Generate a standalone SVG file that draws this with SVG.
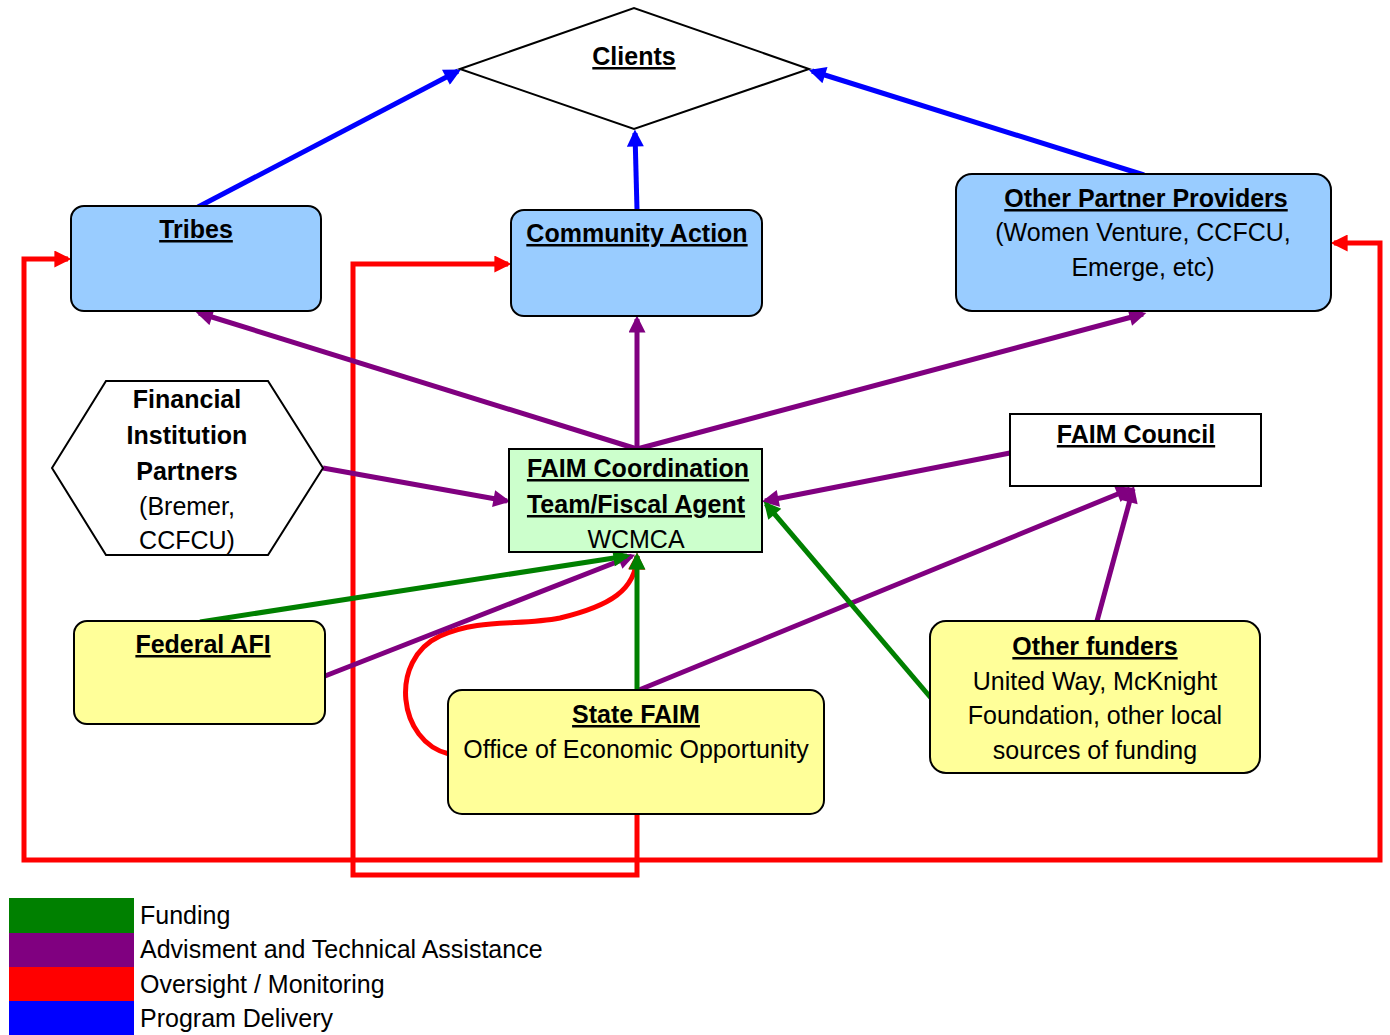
<svg xmlns="http://www.w3.org/2000/svg" width="1390" height="1035" viewBox="0 0 1390 1035">
<style>
text{font-family:"Liberation Sans",Arial,sans-serif;fill:#000;text-anchor:middle}
.t{font-weight:bold;font-size:25px;text-decoration:underline}
.b{font-weight:bold;font-size:25px}
.n{font-size:25px}
.box{stroke:#000;stroke-width:2}
.blue{fill:#99CCFF}.yel{fill:#FFFF99}.grn{fill:#CCFFCC}.wht{fill:#fff}
.c{fill:none;stroke-width:5}
.cb{stroke:#0000FF}.cp{stroke:#800080}.cg{stroke:#008000}.cr{stroke:#FF0000}
.lg{font-size:25px;text-anchor:start}
</style>
<defs>
<marker id="ab" viewBox="0 0 10 10" refX="8" refY="5" markerWidth="4" markerHeight="3.4" orient="auto"><path d="M0,0L10,5L0,10z" fill="#0000FF"/></marker>
<marker id="ap" viewBox="0 0 10 10" refX="8" refY="5" markerWidth="4" markerHeight="3.4" orient="auto"><path d="M0,0L10,5L0,10z" fill="#800080"/></marker>
<marker id="ag" viewBox="0 0 10 10" refX="8" refY="5" markerWidth="4" markerHeight="3.4" orient="auto"><path d="M0,0L10,5L0,10z" fill="#008000"/></marker>
<marker id="ar" viewBox="0 0 10 10" refX="8" refY="5" markerWidth="4" markerHeight="3.4" orient="auto"><path d="M0,0L10,5L0,10z" fill="#FF0000"/></marker>
</defs>
<rect width="1390" height="1035" fill="#fff"/>

<g id="connectors">
<!-- red oversight loops -->
<path class="c cr" d="M637,814 V875 H353 V264 H508" marker-end="url(#ar)"/>
<path class="c cr" d="M637,860 H24 V259 H68" marker-end="url(#ar)"/>
<path class="c cr" d="M637,860 H1380 V243 H1334" marker-end="url(#ar)"/>
<path class="c cr" d="M449,754 C398,742 388,660 440,636 C480,618 520,626 560,618 C610,606 636,590 637,556" marker-end="url(#ar)"/>
<!-- blue program delivery -->
<path class="c cb" d="M198,207 L458,71" marker-end="url(#ab)"/>
<path class="c cb" d="M637,210 L635,133" marker-end="url(#ab)"/>
<path class="c cb" d="M1144,175 L812,71" marker-end="url(#ab)"/>
<!-- purple advisement -->
<path class="c cp" d="M637,449 L199,313" marker-end="url(#ap)"/>
<path class="c cp" d="M637,449 L637,319" marker-end="url(#ap)"/>
<path class="c cp" d="M637,449 L1143,314" marker-end="url(#ap)"/>
<path class="c cp" d="M323,468 L507,501" marker-end="url(#ap)"/>
<path class="c cp" d="M1010,453 L765,501" marker-end="url(#ap)"/>
<path class="c cp" d="M325,676 L632,556" marker-end="url(#ap)"/>
<path class="c cp" d="M639,690 L1130,489" marker-end="url(#ap)"/>
<path class="c cp" d="M1097,621 L1133,489" marker-end="url(#ap)"/>
<!-- green funding -->
<path class="c cg" d="M200,622 L627,556" marker-end="url(#ag)"/>
<path class="c cg" d="M637,690 L637,556" marker-end="url(#ag)"/>
<path class="c cg" d="M931,698 L766,504" marker-end="url(#ag)"/>
</g>

<g id="clients">
<polygon points="460,69 634,8 809,69 634,129" class="box wht"/>
<text x="634" y="65" class="t">Clients</text>
</g>
<g id="tribes">
<rect x="71" y="206" width="250" height="105" rx="13" class="box blue"/>
<text x="196" y="238" class="t">Tribes</text>
</g>
<g id="community-action">
<rect x="511" y="210" width="251" height="106" rx="13" class="box blue"/>
<text x="637" y="242" class="t">Community Action</text>
</g>
<g id="other-partner-providers">
<rect x="956" y="174" width="375" height="137" rx="16" class="box blue"/>
<text x="1146" y="207" class="t">Other Partner Providers </text>
<text x="1143" y="241" class="n">(Women Venture, CCFCU,</text>
<text x="1143" y="276" class="n">Emerge, etc)</text>
</g>
<g id="financial-institution-partners">
<polygon points="52,468 106,381 268,381 323,468 268,555 106,555" class="box wht"/>
<text x="187" y="408" class="b">Financial</text>
<text x="187" y="444" class="b">Institution</text>
<text x="187" y="480" class="b">Partners</text>
<text x="187" y="515" class="n">(Bremer,</text>
<text x="187" y="549" class="n">CCFCU)</text>
</g>
<g id="faim-coordination">
<rect x="509" y="449" width="253" height="103" class="box grn"/>
<text x="638" y="477" class="t">FAIM Coordination </text>
<text x="636" y="513" class="t">Team/Fiscal Agent</text>
<text x="636" y="548" class="n">WCMCA</text>
</g>
<g id="faim-council">
<rect x="1010" y="414" width="251" height="72" class="box wht"/>
<text x="1136" y="443" class="t">FAIM Council</text>
</g>
<g id="federal-afi">
<rect x="74" y="621" width="251" height="103" rx="13" class="box yel"/>
<text x="203" y="653" class="t">Federal AFI </text>
</g>
<g id="state-faim">
<rect x="448" y="690" width="376" height="124" rx="14" class="box yel"/>
<text x="636" y="723" class="t">State FAIM</text>
<text x="636" y="758" class="n">Office of Economic Opportunity</text>
</g>
<g id="other-funders">
<rect x="930" y="621" width="330" height="152" rx="16" class="box yel"/>
<text x="1095" y="655" class="t">Other funders</text>
<text x="1095" y="690" class="n">United Way, McKnight</text>
<text x="1095" y="724" class="n">Foundation, other local</text>
<text x="1095" y="759" class="n">sources of funding</text>
</g>

<g id="legend">
<rect x="9" y="898" width="125" height="35" fill="#008000"/>
<rect x="9" y="933" width="125" height="34" fill="#800080"/>
<rect x="9" y="967" width="125" height="34" fill="#FF0000"/>
<rect x="9" y="1001" width="125" height="34" fill="#0000FF"/>
<text x="140" y="924" class="lg">Funding</text>
<text x="140" y="958" class="lg">Advisment and Technical Assistance</text>
<text x="140" y="993" class="lg">Oversight / Monitoring</text>
<text x="140" y="1027" class="lg">Program Delivery</text>
</g>
</svg>
